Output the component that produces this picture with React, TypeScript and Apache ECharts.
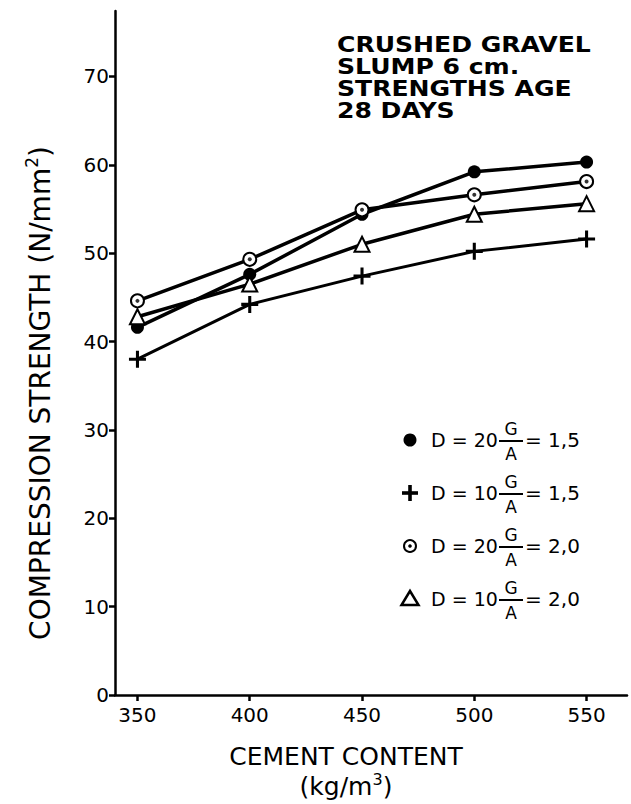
import React, { useEffect, useRef } from "react";
import * as echarts from "echarts";

const cementContent = [350, 400, 450, 500, 550];
const d20ga15 = [41.6, 47.6, 54.4, 59.2, 60.3];
const d10ga15 = [38.0, 44.2, 47.4, 50.2, 51.6];
const d20ga20 = [44.6, 49.3, 54.9, 56.6, 58.1];
const d10ga20 = [42.8, 46.5, 51.0, 54.4, 55.6];
const xTicks = [350, 400, 450, 500, 550];
const yTicks = [0, 10, 20, 30, 40, 50, 60, 70];
const noteLines = ["CRUSHED GRAVEL", "SLUMP 6 cm.", "STRENGTHS AGE", "28 DAYS"];
const legendRows = [
  { d: "D = 20", ratio: "= 1,5" },
  { d: "D = 10", ratio: "= 1,5" },
  { d: "D = 20", ratio: "= 2,0" },
  { d: "D = 10", ratio: "= 2,0" },
];

const FONT = "DejaVu Sans";
const PLUS = "path://M8.2,0 H11.8 V8.2 H20 V11.8 H11.8 V20 H8.2 V11.8 H0 V8.2 H8.2 Z";

const pairs = (ys: number[]) => cementContent.map((x, i) => [x, ys[i]]);

export default function App() {
  const ref = useRef<HTMLDivElement>(null);
  useEffect(() => {
    if (!ref.current) return;
    const chart = echarts.init(ref.current, null, { renderer: "svg" });

    const lx = 410;
    const ly0 = 440;
    const dy = 53;
    const fx = 511;
    const legendGraphics: any[] = [];
    legendRows.forEach((r, i) => {
      const cy = ly0 + i * dy;
      if (i === 0) {
        legendGraphics.push({ type: "circle", shape: { cx: lx, cy, r: 6.5 }, style: { fill: "#000" } });
      } else if (i === 1) {
        legendGraphics.push({ type: "rect", shape: { x: lx - 8, y: cy - 1.8, width: 16, height: 3.6 }, style: { fill: "#000" } });
        legendGraphics.push({ type: "rect", shape: { x: lx - 1.8, y: cy - 8, width: 3.6, height: 16 }, style: { fill: "#000" } });
      } else if (i === 2) {
        legendGraphics.push({ type: "circle", shape: { cx: lx, cy, r: 6 }, style: { fill: "#fff", stroke: "#000", lineWidth: 2 } });
        legendGraphics.push({ type: "circle", shape: { cx: lx, cy, r: 1.8 }, style: { fill: "#000" } });
      } else {
        legendGraphics.push({
          type: "polygon",
          shape: { points: [[lx, cy - 8], [lx - 8.5, cy + 6], [lx + 8.5, cy + 6]] },
          style: { fill: "#fff", stroke: "#000", lineWidth: 2.5 },
        });
      }
      legendGraphics.push({
        type: "text", x: 431, y: cy,
        style: { text: r.d, fontFamily: FONT, fontSize: 19, fill: "#000", align: "left", verticalAlign: "middle" },
      });
      legendGraphics.push({
        type: "text", x: fx, y: cy - 11,
        style: { text: "G", fontFamily: FONT, fontSize: 17, fill: "#000", align: "center", verticalAlign: "middle" },
      });
      legendGraphics.push({
        type: "line", shape: { x1: fx - 12, y1: cy + 1, x2: fx + 12, y2: cy + 1 },
        style: { stroke: "#000", lineWidth: 2 },
      });
      legendGraphics.push({
        type: "text", x: fx, y: cy + 14,
        style: { text: "A", fontFamily: FONT, fontSize: 17, fill: "#000", align: "center", verticalAlign: "middle" },
      });
      legendGraphics.push({
        type: "text", x: fx + 14, y: cy,
        style: { text: r.ratio, fontFamily: FONT, fontSize: 20, fill: "#000", align: "left", verticalAlign: "middle" },
      });
    });

    const lineStyle = { color: "#000", width: 3.5 };

    chart.setOption({
      animation: false,
      backgroundColor: "#fff",
      grid: { left: 115, right: 4, top: 11, bottom: 105, containLabel: false },
      xAxis: {
        type: "value",
        min: 340,
        max: 568,
        name: "{a|CEMENT CONTENT}\n{a|(kg/m}{s|3}{a|)}",
        nameLocation: "middle",
        nameGap: 44,
        nameTextStyle: {
          padding: [0, 50, 0, 0],
          rich: {
            a: { fontFamily: FONT, fontSize: 25, color: "#000", lineHeight: 30, verticalAlign: "bottom" },
            s: { fontFamily: FONT, fontSize: 16, color: "#000", verticalAlign: "bottom", padding: [0, 0, 12, 0] },
          },
        },
        axisLine: { lineStyle: { color: "#000", width: 2.5 } },
        axisTick: { show: true, length: 6, lineStyle: { color: "#000", width: 2.5 }, customValues: xTicks },
        axisLabel: { customValues: xTicks, fontFamily: FONT, fontSize: 20, color: "#000", margin: 10 },
        splitLine: { show: false },
      },
      yAxis: {
        type: "value",
        min: 0,
        max: 77.4,
        name: "{a|COMPRESSION STRENGTH (N/mm}{s|2}{a|)}",
        nameLocation: "middle",
        nameGap: 61,
        nameTextStyle: {
          padding: [0, 80, 0, 0],
          rich: {
            a: { fontFamily: FONT, fontSize: 28, color: "#000", verticalAlign: "bottom" },
            s: { fontFamily: FONT, fontSize: 17, color: "#000", verticalAlign: "bottom", padding: [0, 0, 14, 0] },
          },
        },
        axisLine: { show: true, lineStyle: { color: "#000", width: 2.5 } },
        axisTick: { show: true, length: 6, lineStyle: { color: "#000", width: 2.5 }, customValues: yTicks },
        axisLabel: { customValues: yTicks, fontFamily: FONT, fontSize: 20, color: "#000", margin: 6 },
        splitLine: { show: false },
      },
      graphic: [
        {
          type: "text", x: 337, y: 34, scaleX: 1.14,
          style: {
            text: noteLines.join("\n"), fontFamily: FONT, fontSize: 22, fontWeight: "bold",
            lineHeight: 22, fill: "#000", align: "left", verticalAlign: "top",
          },
        },
        ...legendGraphics,
      ],
      series: [
        {
          name: "D=20 G/A=1,5", type: "line", data: pairs(d20ga15),
          symbol: "circle", symbolSize: 13, lineStyle, itemStyle: { color: "#000" },
        },
        {
          name: "D=10 G/A=1,5", type: "line", data: pairs(d10ga15),
          symbol: PLUS, symbolSize: 17, lineStyle: { color: "#000", width: 3 }, itemStyle: { color: "#000" },
        },
        {
          name: "D=20 G/A=2,0", type: "line", data: pairs(d20ga20),
          symbol: "emptyCircle", symbolSize: 13, lineStyle, itemStyle: { color: "#000", borderWidth: 2 },
        },
        {
          name: "D=20 G/A=2,0 centre", type: "scatter", data: pairs(d20ga20),
          symbol: "circle", symbolSize: 4, itemStyle: { color: "#000" }, z: 5,
        },
        {
          name: "D=10 G/A=2,0", type: "line", data: pairs(d10ga20),
          symbol: "emptyTriangle", symbolSize: 15, lineStyle, itemStyle: { color: "#000", borderWidth: 2.5 },
        },
      ],
    });
    return () => chart.dispose();
  }, []);
  return (
    <div
      ref={ref}
      style={{ position: "fixed", left: 0, top: 0, width: 631, height: 804, background: "#fff" }}
    />
  );
}
